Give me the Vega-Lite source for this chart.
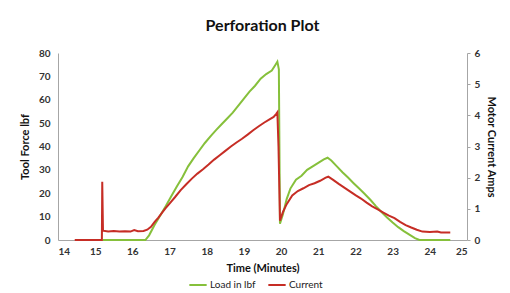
{
  "$schema": "https://vega.github.io/schema/vega-lite/v6.json",
  "width": 409,
  "height": 187,
  "autosize": {"type": "none"},
  "padding": {"left": 58, "top": 53, "right": 43, "bottom": 53},
  "background": "white",
  "title": {
    "text": "Perforation Plot",
    "font": "Lato",
    "fontSize": 16,
    "fontWeight": "bold",
    "color": "#111111",
    "offset": 14
  },
  "config": {
    "view": {"stroke": null},
    "font": "Lato",
    "axis": {
      "grid": false,
      "labelFont": "Lato",
      "labelFontSize": 10,
      "labelFontWeight": "bold",
      "labelColor": "#333333",
      "labelOverlap": false,
      "titleFont": "Lato",
      "titleFontSize": 11,
      "titleFontWeight": "bold",
      "titleColor": "#111111",
      "domainColor": "#a6a6a6",
      "tickColor": "#a6a6a6"
    }
  },
  "datasets": {
    "load": [
      {"t": 15.2, "v": 0, "s": "Load in lbf"},
      {"t": 16.35, "v": 0, "s": "Load in lbf"},
      {"t": 16.45, "v": 2, "s": "Load in lbf"},
      {"t": 16.6, "v": 6.5, "s": "Load in lbf"},
      {"t": 16.75, "v": 10.5, "s": "Load in lbf"},
      {"t": 16.9, "v": 14.5, "s": "Load in lbf"},
      {"t": 17.05, "v": 18.8, "s": "Load in lbf"},
      {"t": 17.2, "v": 23, "s": "Load in lbf"},
      {"t": 17.35, "v": 27, "s": "Load in lbf"},
      {"t": 17.5, "v": 31.5, "s": "Load in lbf"},
      {"t": 17.65, "v": 35, "s": "Load in lbf"},
      {"t": 17.8, "v": 38.3, "s": "Load in lbf"},
      {"t": 17.95, "v": 41.5, "s": "Load in lbf"},
      {"t": 18.1, "v": 44.3, "s": "Load in lbf"},
      {"t": 18.25, "v": 47, "s": "Load in lbf"},
      {"t": 18.4, "v": 49.5, "s": "Load in lbf"},
      {"t": 18.55, "v": 52, "s": "Load in lbf"},
      {"t": 18.7, "v": 54.5, "s": "Load in lbf"},
      {"t": 18.85, "v": 57.5, "s": "Load in lbf"},
      {"t": 19.0, "v": 60.5, "s": "Load in lbf"},
      {"t": 19.15, "v": 63.5, "s": "Load in lbf"},
      {"t": 19.3, "v": 66, "s": "Load in lbf"},
      {"t": 19.45, "v": 69, "s": "Load in lbf"},
      {"t": 19.6, "v": 71, "s": "Load in lbf"},
      {"t": 19.75, "v": 72.5, "s": "Load in lbf"},
      {"t": 19.85, "v": 75, "s": "Load in lbf"},
      {"t": 19.9, "v": 76.3, "s": "Load in lbf"},
      {"t": 19.94, "v": 73, "s": "Load in lbf"},
      {"t": 19.97, "v": 7, "s": "Load in lbf"},
      {"t": 20.05, "v": 11, "s": "Load in lbf"},
      {"t": 20.15, "v": 17.5, "s": "Load in lbf"},
      {"t": 20.25, "v": 22, "s": "Load in lbf"},
      {"t": 20.4, "v": 25.8, "s": "Load in lbf"},
      {"t": 20.55, "v": 27.5, "s": "Load in lbf"},
      {"t": 20.7, "v": 30, "s": "Load in lbf"},
      {"t": 20.85, "v": 31.5, "s": "Load in lbf"},
      {"t": 21.0, "v": 33, "s": "Load in lbf"},
      {"t": 21.15, "v": 34.5, "s": "Load in lbf"},
      {"t": 21.25, "v": 35.2, "s": "Load in lbf"},
      {"t": 21.35, "v": 34, "s": "Load in lbf"},
      {"t": 21.5, "v": 31.5, "s": "Load in lbf"},
      {"t": 21.65, "v": 29, "s": "Load in lbf"},
      {"t": 21.8, "v": 26.7, "s": "Load in lbf"},
      {"t": 21.95, "v": 24.3, "s": "Load in lbf"},
      {"t": 22.1, "v": 22, "s": "Load in lbf"},
      {"t": 22.25, "v": 19.7, "s": "Load in lbf"},
      {"t": 22.4, "v": 17.2, "s": "Load in lbf"},
      {"t": 22.55, "v": 14.5, "s": "Load in lbf"},
      {"t": 22.7, "v": 12, "s": "Load in lbf"},
      {"t": 22.85, "v": 9.6, "s": "Load in lbf"},
      {"t": 23.0, "v": 7.5, "s": "Load in lbf"},
      {"t": 23.15, "v": 5.5, "s": "Load in lbf"},
      {"t": 23.3, "v": 3.8, "s": "Load in lbf"},
      {"t": 23.45, "v": 2.3, "s": "Load in lbf"},
      {"t": 23.6, "v": 0.8, "s": "Load in lbf"},
      {"t": 23.72, "v": 0, "s": "Load in lbf"},
      {"t": 24.55, "v": 0, "s": "Load in lbf"}
    ],
    "current": [
      {"t": 14.45, "v": 0, "s": "Current"},
      {"t": 15.18, "v": 0, "s": "Current"},
      {"t": 15.19, "v": 1.87, "s": "Current"},
      {"t": 15.21, "v": 0.3, "s": "Current"},
      {"t": 15.35, "v": 0.27, "s": "Current"},
      {"t": 15.5, "v": 0.29, "s": "Current"},
      {"t": 15.65, "v": 0.27, "s": "Current"},
      {"t": 15.8, "v": 0.28, "s": "Current"},
      {"t": 15.95, "v": 0.27, "s": "Current"},
      {"t": 16.05, "v": 0.32, "s": "Current"},
      {"t": 16.15, "v": 0.28, "s": "Current"},
      {"t": 16.3, "v": 0.29, "s": "Current"},
      {"t": 16.4, "v": 0.33, "s": "Current"},
      {"t": 16.5, "v": 0.42, "s": "Current"},
      {"t": 16.6, "v": 0.58, "s": "Current"},
      {"t": 16.7, "v": 0.72, "s": "Current"},
      {"t": 16.8, "v": 0.88, "s": "Current"},
      {"t": 16.9, "v": 1.03, "s": "Current"},
      {"t": 17.0, "v": 1.17, "s": "Current"},
      {"t": 17.15, "v": 1.38, "s": "Current"},
      {"t": 17.3, "v": 1.6, "s": "Current"},
      {"t": 17.45, "v": 1.79, "s": "Current"},
      {"t": 17.6, "v": 1.97, "s": "Current"},
      {"t": 17.75, "v": 2.13, "s": "Current"},
      {"t": 17.9, "v": 2.27, "s": "Current"},
      {"t": 18.05, "v": 2.42, "s": "Current"},
      {"t": 18.2, "v": 2.58, "s": "Current"},
      {"t": 18.35, "v": 2.72, "s": "Current"},
      {"t": 18.5, "v": 2.86, "s": "Current"},
      {"t": 18.65, "v": 3.0, "s": "Current"},
      {"t": 18.8, "v": 3.13, "s": "Current"},
      {"t": 18.95, "v": 3.25, "s": "Current"},
      {"t": 19.1, "v": 3.38, "s": "Current"},
      {"t": 19.25, "v": 3.52, "s": "Current"},
      {"t": 19.4, "v": 3.65, "s": "Current"},
      {"t": 19.55, "v": 3.77, "s": "Current"},
      {"t": 19.7, "v": 3.88, "s": "Current"},
      {"t": 19.8, "v": 3.95, "s": "Current"},
      {"t": 19.87, "v": 4.05, "s": "Current"},
      {"t": 19.9, "v": 4.1, "s": "Current"},
      {"t": 19.93, "v": 3.0, "s": "Current"},
      {"t": 19.97, "v": 0.62, "s": "Current"},
      {"t": 20.05, "v": 0.9, "s": "Current"},
      {"t": 20.15, "v": 1.15, "s": "Current"},
      {"t": 20.3, "v": 1.43, "s": "Current"},
      {"t": 20.45, "v": 1.57, "s": "Current"},
      {"t": 20.6, "v": 1.66, "s": "Current"},
      {"t": 20.75, "v": 1.76, "s": "Current"},
      {"t": 20.9, "v": 1.82, "s": "Current"},
      {"t": 21.05, "v": 1.9, "s": "Current"},
      {"t": 21.2, "v": 2.0, "s": "Current"},
      {"t": 21.27, "v": 2.03, "s": "Current"},
      {"t": 21.4, "v": 1.93, "s": "Current"},
      {"t": 21.55, "v": 1.8, "s": "Current"},
      {"t": 21.7, "v": 1.68, "s": "Current"},
      {"t": 21.85, "v": 1.56, "s": "Current"},
      {"t": 22.0, "v": 1.44, "s": "Current"},
      {"t": 22.15, "v": 1.33, "s": "Current"},
      {"t": 22.3, "v": 1.2, "s": "Current"},
      {"t": 22.45, "v": 1.08, "s": "Current"},
      {"t": 22.6, "v": 0.98, "s": "Current"},
      {"t": 22.75, "v": 0.88, "s": "Current"},
      {"t": 22.9, "v": 0.78, "s": "Current"},
      {"t": 23.05, "v": 0.7, "s": "Current"},
      {"t": 23.2, "v": 0.58, "s": "Current"},
      {"t": 23.35, "v": 0.48, "s": "Current"},
      {"t": 23.5, "v": 0.4, "s": "Current"},
      {"t": 23.65, "v": 0.33, "s": "Current"},
      {"t": 23.8, "v": 0.27, "s": "Current"},
      {"t": 24.0, "v": 0.26, "s": "Current"},
      {"t": 24.2, "v": 0.27, "s": "Current"},
      {"t": 24.3, "v": 0.24, "s": "Current"},
      {"t": 24.55, "v": 0.24, "s": "Current"}
    ]
  },
  "layer": [
    {
      "data": {"name": "load"},
      "mark": {"type": "line", "strokeWidth": 2},
      "encoding": {
        "x": {
          "field": "t", "type": "quantitative",
          "scale": {"domain": [14, 25], "nice": false},
          "axis": {"values": [14,15,16,17,18,19,20,21,22,23,24,25], "labelOverlap": false, "title": "Time  (Minutes)", "ticks": false, "labelPadding": 6, "titlePadding": 6}
        },
        "y": {
          "field": "v", "type": "quantitative",
          "scale": {"domain": [0, 80], "nice": false},
          "axis": {"values": [0,10,20,30,40,50,60,70,80], "title": "Tool Force lbf", "ticks": false, "labelPadding": 8, "titlePadding": 8}
        },
        "color": {
          "field": "s", "type": "nominal",
          "scale": {"domain": ["Load in lbf", "Current"], "range": ["#86c03b", "#c62d25"]},
          "legend": {"orient": "none", "legendX": 130, "legendY": 222, "direction": "horizontal", "title": null, "symbolType": "stroke", "symbolStrokeWidth": 2, "symbolSize": 300, "labelFont": "Lato", "labelFontSize": 10, "labelColor": "#222222", "columnPadding": 8, "symbolOffset": 0, "labelOffset": 2}
        }
      }
    },
    {
      "data": {"name": "current"},
      "mark": {"type": "line", "strokeWidth": 2},
      "encoding": {
        "x": {
          "field": "t", "type": "quantitative",
          "scale": {"domain": [14, 25], "nice": false},
          "axis": {"values": [14,15,16,17,18,19,20,21,22,23,24,25], "labelOverlap": false, "title": "Time  (Minutes)", "ticks": false, "labelPadding": 6, "titlePadding": 6}
        },
        "y": {
          "field": "v", "type": "quantitative",
          "scale": {"domain": [0, 6], "nice": false},
          "axis": {"orient": "right", "values": [0,1,2,3,4,5,6], "title": "Motor Current Amps", "tickSize": 3, "labelPadding": 4, "titlePadding": 6}
        },
        "color": {"field": "s", "type": "nominal"}
      }
    }
  ],
  "resolve": {"scale": {"y": "independent"}}
}
